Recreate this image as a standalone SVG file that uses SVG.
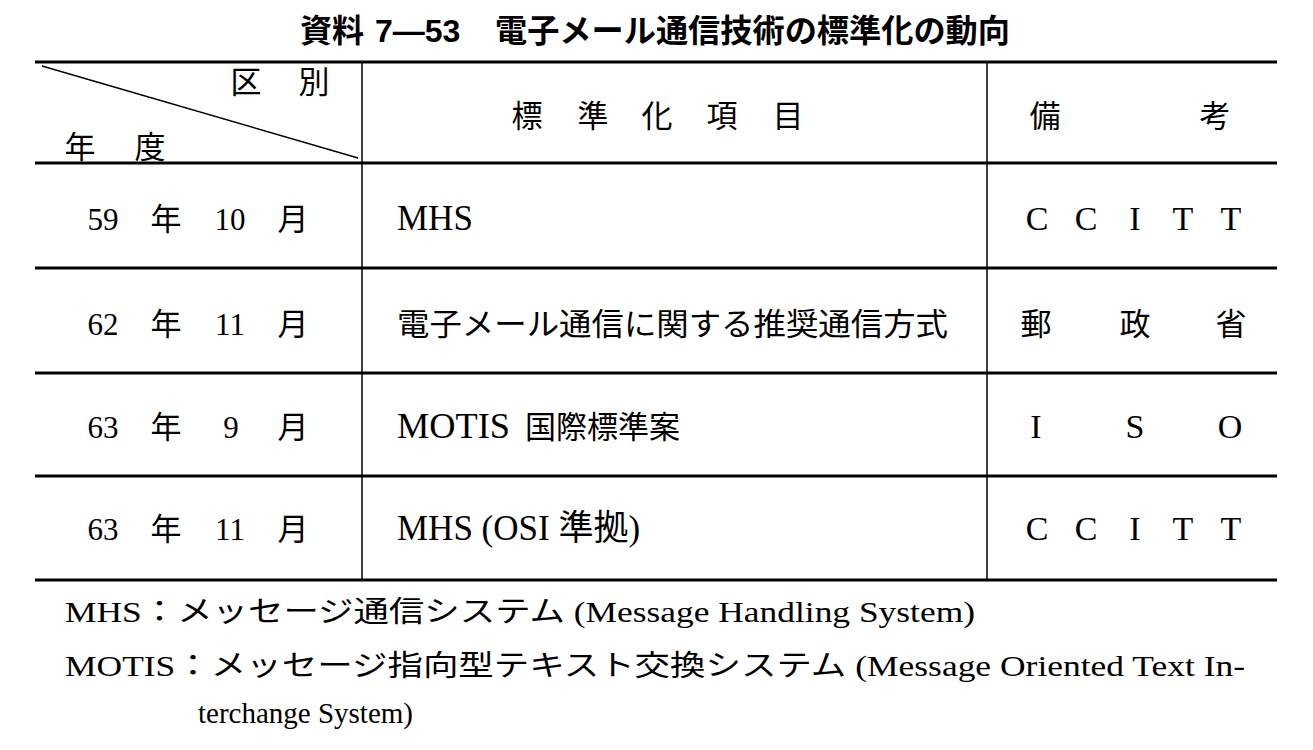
<svg xmlns="http://www.w3.org/2000/svg" width="1313" height="750" viewBox="0 0 1313 750">
<style>
.t{font-family:"Liberation Serif","Noto Sans CJK JP",serif;font-size:31px;fill:#000}
.L{font-size:35px}
.R{font-size:34px}
.c{text-anchor:middle}
.title{font-family:"Liberation Sans","Noto Sans CJK JP",sans-serif;font-size:32px;font-weight:bold;fill:#000}
.h{stroke:#000;stroke-width:3}
.v{stroke:#000;stroke-width:1.5}
.f{font-family:"Liberation Serif","Noto Sans CJK JP",serif;font-size:29px;fill:#000}
</style>
<rect width="1313" height="750" fill="#fff"/>
<g id="title">
<text class="title" x="300" y="42">資料</text>
<text class="title" x="375" y="42">7―53</text>
<text class="title" x="495" y="42" textLength="515" lengthAdjust="spacingAndGlyphs">電子メール通信技術の標準化の動向</text>
</g>
<g id="grid">
<line class="h" x1="35" y1="62" x2="1277" y2="62"/>
<line class="h" x1="35" y1="163" x2="1277" y2="163"/>
<line class="h" x1="35" y1="268" x2="1277" y2="268"/>
<line class="h" x1="35" y1="373" x2="1277" y2="373"/>
<line class="h" x1="35" y1="476" x2="1277" y2="476"/>
<line class="h" x1="35" y1="580" x2="1277" y2="580"/>
<line class="v" x1="362" y1="62" x2="362" y2="580"/>
<line class="v" x1="987" y1="62" x2="987" y2="580"/>
<line class="v" x1="42" y1="66" x2="358" y2="158"/>
</g>
<g id="header">
<text class="t c" x="246" y="93">区</text>
<text class="t c" x="314" y="93">別</text>
<text class="t c" x="80" y="158">年</text>
<text class="t c" x="150" y="158">度</text>
<text class="t c" x="527" y="127">標</text>
<text class="t c" x="593" y="127">準</text>
<text class="t c" x="657" y="127">化</text>
<text class="t c" x="722" y="127">項</text>
<text class="t c" x="788" y="127">目</text>
<text class="t c" x="1045" y="127">備</text>
<text class="t c" x="1215" y="127">考</text>
</g>
<g id="row1">
<text class="t c" x="103" y="230">59</text>
<text class="t c" x="166" y="230">年</text>
<text class="t c" x="230" y="230">10</text>
<text class="t c" x="293" y="230">月</text>
<text class="t L" x="397" y="230">MHS</text>
<text class="t R c" x="1037" y="230">C</text>
<text class="t R c" x="1086" y="230">C</text>
<text class="t R c" x="1135" y="230">I</text>
<text class="t R c" x="1183" y="230">T</text>
<text class="t R c" x="1231" y="230">T</text>
</g>
<g id="row2">
<text class="t c" x="103" y="335">62</text>
<text class="t c" x="166" y="335">年</text>
<text class="t c" x="230" y="335">11</text>
<text class="t c" x="293" y="335">月</text>
<text class="t" x="397" y="335" textLength="551" lengthAdjust="spacingAndGlyphs">電子メール通信に関する推奨通信方式</text>
<text class="t c" x="1036" y="335">郵</text>
<text class="t c" x="1135" y="335">政</text>
<text class="t c" x="1231" y="335">省</text>
</g>
<g id="row3">
<text class="t c" x="103" y="438">63</text>
<text class="t c" x="166" y="438">年</text>
<text class="t c" x="231" y="438">9</text>
<text class="t c" x="293" y="438">月</text>
<text class="t L" x="397" y="438" textLength="113" lengthAdjust="spacingAndGlyphs">MOTIS</text>
<text class="t" x="525" y="438">国際標準案</text>
<text class="t R c" x="1036" y="438">I</text>
<text class="t R c" x="1135" y="438">S</text>
<text class="t R c" x="1230" y="438">O</text>
</g>
<g id="row4">
<text class="t c" x="103" y="540">63</text>
<text class="t c" x="166" y="540">年</text>
<text class="t c" x="230" y="540">11</text>
<text class="t c" x="293" y="540">月</text>
<text class="t L" x="397" y="540">MHS (OSI 準拠)</text>
<text class="t R c" x="1037" y="540">C</text>
<text class="t R c" x="1086" y="540">C</text>
<text class="t R c" x="1135" y="540">I</text>
<text class="t R c" x="1183" y="540">T</text>
<text class="t R c" x="1231" y="540">T</text>
</g>
<g id="notes">
<text class="f" x="65" y="622" textLength="910" lengthAdjust="spacingAndGlyphs">MHS：メッセージ通信システム (Message Handling System)</text>
<text class="f" x="65" y="676" textLength="1180" lengthAdjust="spacingAndGlyphs">MOTIS：メッセージ指向型テキスト交換システム (Message Oriented Text In-</text>
<text class="f" x="198" y="723">terchange System)</text>
</g>
</svg>
